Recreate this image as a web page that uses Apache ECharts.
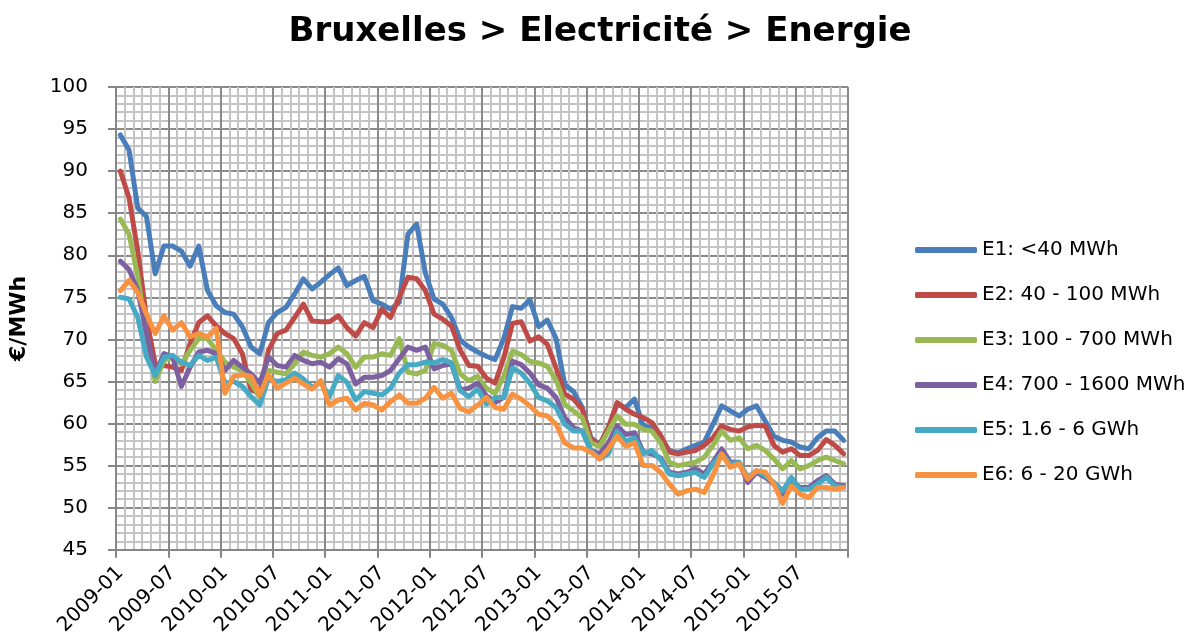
<!DOCTYPE html>
<html>
<head>
<meta charset="utf-8">
<script src="https://cdn.jsdelivr.net/npm/echarts@6/dist/echarts.min.js"></script>
<style>
html,body{margin:0;padding:0;background:#fff;}
#chart{width:1200px;height:638px;}
</style>
</head>
<body>
<div id="chart"></div>
<script>
const months = [
'2009-01','2009-02','2009-03','2009-04','2009-05','2009-06','2009-07','2009-08','2009-09','2009-10','2009-11','2009-12',
'2010-01','2010-02','2010-03','2010-04','2010-05','2010-06','2010-07','2010-08','2010-09','2010-10','2010-11','2010-12',
'2011-01','2011-02','2011-03','2011-04','2011-05','2011-06','2011-07','2011-08','2011-09','2011-10','2011-11','2011-12',
'2012-01','2012-02','2012-03','2012-04','2012-05','2012-06','2012-07','2012-08','2012-09','2012-10','2012-11','2012-12',
'2013-01','2013-02','2013-03','2013-04','2013-05','2013-06','2013-07','2013-08','2013-09','2013-10','2013-11','2013-12',
'2014-01','2014-02','2014-03','2014-04','2014-05','2014-06','2014-07','2014-08','2014-09','2014-10','2014-11','2014-12',
'2015-01','2015-02','2015-03','2015-04','2015-05','2015-06','2015-07','2015-08','2015-09','2015-10','2015-11','2015-12'
];
const seriesNames = ['E1: <40 MWh','E2: 40 - 100 MWh','E3: 100 - 700 MWh','E4: 700 - 1600 MWh','E5: 1.6 - 6 GWh','E6: 6 - 20 GWh'];
const e1 = [94.3,92.5,85.6,84.6,77.8,81.1,81.1,80.5,78.7,81.1,75.8,74.0,
73.2,73.0,71.5,69.1,68.3,72.0,73.2,73.8,75.4,77.2,76.0,76.8,
77.7,78.5,76.4,77.0,77.5,74.6,74.2,73.6,74.4,82.5,83.7,77.9,
74.8,74.2,72.6,69.9,69.1,68.5,68.0,67.6,70.1,73.9,73.7,74.7,
71.5,72.3,70.1,64.6,63.8,61.9,58.3,57.5,59.5,62.3,61.9,62.9,
59.7,59.5,58.3,56.8,56.5,57.0,57.4,57.8,59.9,62.1,61.5,60.9,
61.7,62.1,60.3,58.5,58.0,57.8,57.2,57.0,58.3,59.1,59.1,58.0];
const e2 = [90.0,86.8,80.5,72.5,67.1,66.9,66.7,66.3,69.5,72.0,72.8,71.6,
70.7,70.1,68.3,64.0,63.6,68.7,70.7,71.1,72.6,74.2,72.2,72.1,
72.1,72.8,71.4,70.4,72.0,71.4,73.6,72.6,75.0,77.4,77.2,75.8,
73.0,72.4,71.6,68.7,66.9,66.8,65.4,64.8,67.8,71.9,72.1,69.8,
70.3,69.4,66.6,63.5,62.9,61.7,58.1,57.5,59.5,62.5,61.7,61.1,
60.7,60.1,58.6,56.6,56.4,56.6,56.8,57.4,58.3,59.7,59.3,59.1,
59.6,59.8,59.7,57.4,56.6,57.0,56.2,56.2,56.8,58.1,57.4,56.4];
const e3 = [84.3,82.5,77.5,70.5,65.0,67.5,67.9,67.1,68.7,70.1,70.1,68.7,
67.3,66.7,66.3,64.8,63.2,66.3,66.1,65.9,67.1,68.5,68.1,67.9,
68.3,69.1,68.3,66.7,67.9,67.9,68.3,68.1,70.1,66.1,65.9,66.3,
69.5,69.3,68.7,65.9,65.1,65.6,64.2,63.6,65.6,68.6,68.2,67.4,
67.2,66.8,65.2,62.3,61.5,60.7,57.7,57.3,59.1,60.9,59.9,59.9,
59.3,59.1,57.7,55.4,55.0,55.2,55.4,56.0,57.4,59.1,58.0,58.3,
57.0,57.4,56.8,55.8,54.6,55.6,54.6,55.0,55.6,56.0,55.6,55.2];
const e4 = [79.3,78.3,75.8,70.7,65.9,68.3,67.9,64.4,66.7,68.5,68.7,68.3,
66.3,67.5,66.7,65.9,64.8,67.9,66.9,66.7,68.1,67.5,67.1,67.3,
66.7,67.7,67.1,64.7,65.5,65.5,65.7,66.3,67.7,69.1,68.7,69.1,
66.5,66.9,67.1,64.0,64.2,64.8,63.3,62.5,63.1,67.4,67.0,66.0,
64.6,64.2,63.1,60.7,59.5,59.1,56.8,56.4,57.7,59.7,58.7,58.9,
56.6,56.4,55.9,54.2,54.0,54.2,54.6,54.0,55.4,57.0,55.4,55.4,
53.0,54.2,53.6,52.8,51.6,53.2,52.4,52.4,53.2,53.8,52.8,52.6];
const e5 = [75.0,74.8,72.6,67.9,65.7,67.9,68.1,67.3,66.9,68.1,67.5,67.9,
64.8,65.0,64.4,63.2,62.2,65.4,65.0,65.2,66.0,65.3,64.3,64.9,
63.2,65.7,64.9,62.8,63.8,63.6,63.4,64.2,66.0,67.0,67.0,67.3,
67.2,67.6,67.2,63.9,63.2,64.1,62.3,63.1,63.1,66.6,66.0,64.8,
63.1,62.7,61.9,59.9,59.1,59.1,56.8,55.8,56.4,59.1,57.9,58.3,
56.4,56.8,55.7,54.0,53.8,54.0,54.2,53.6,55.2,56.4,55.2,55.4,
53.6,54.4,53.8,53.0,52.0,53.6,52.2,52.2,52.8,53.6,52.6,52.4];
const e6 = [75.8,77.0,75.6,73.0,70.7,72.8,71.1,72.0,70.3,70.7,70.3,71.3,
63.6,65.6,65.8,65.6,63.4,65.8,64.2,64.8,65.4,64.7,64.1,65.1,
62.2,62.8,63.0,61.6,62.4,62.2,61.6,62.6,63.4,62.4,62.4,63.0,
64.3,63.0,63.6,61.8,61.4,62.2,63.1,61.9,61.7,63.5,62.9,62.1,
61.1,60.9,59.9,57.7,57.1,57.1,56.6,55.8,57.0,58.5,57.3,57.7,
55.0,55.0,54.2,52.8,51.6,52.0,52.2,51.8,53.8,56.4,54.8,55.2,
53.4,54.4,54.2,52.8,50.5,52.6,51.6,51.2,52.4,52.4,52.2,52.4];
const seriesData = [e1,e2,e3,e4,e5,e6];
const colors = ['#4A7EBB','#BE4B48','#98B954','#7D60A0','#46AAC5','#F69240'];

const FONT = 'DejaVu Sans';
const chart = echarts.init(document.getElementById('chart'), null, {renderer:'canvas'});
const option = {
  animation: false,
  backgroundColor: '#ffffff',
  color: colors,
  title: {
    text: 'Bruxelles > Electricité > Energie',
    left: 'center',
    top: 10,
    textStyle: {fontFamily: FONT, fontSize: 34, fontWeight: 'bold', color: '#000'}
  },
  legend: {
    orient: 'vertical',
    left: 910,
    top: 235,
    icon: 'roundRect',
    itemWidth: 62,
    itemHeight: 6,
    itemGap: 25,
    textStyle: {fontFamily: FONT, fontSize: 20, color: '#000', padding: [0,0,0,0]},
    data: seriesNames
  },
  grid: {left: 115, right: 352, top: 87, bottom: 85, containLabel: false},
  xAxis: [{
    type: 'category',
    data: months,
    boundaryGap: true,
    axisLine: {show: true, lineStyle: {color: '#868686', width: 2}},
    axisTick: {show: true, interval: 5, length: 8, lineStyle: {color: '#868686', width: 2}},
    axisLabel: {interval: 5, rotate: 45, margin: 20, fontFamily: FONT, fontSize: 20, color: '#000'},
    splitLine: {show: true, interval: 0, lineStyle: {color: '#C4C4C4', width: 2}}
  },{
    type: 'category',
    data: months,
    boundaryGap: true,
    position: 'top',
    axisLine: {show: false},
    axisTick: {show: false},
    axisLabel: {show: false},
    splitLine: {show: true, interval: 5, lineStyle: {color: '#8A8A8A', width: 2}}
  }],
  yAxis: {
    type: 'value',
    min: 45, max: 100, interval: 5,
    name: '€/MWh',
    nameLocation: 'middle',
    nameRotate: 90,
    nameGap: 86,
    nameTextStyle: {fontFamily: FONT, fontSize: 22, fontWeight: 'bold', color: '#000'},
    axisLine: {show: true, lineStyle: {color: '#868686', width: 2}},
    axisTick: {show: true, length: 8, lineStyle: {color: '#868686', width: 2}},
    axisLabel: {margin: 28, fontFamily: FONT, fontSize: 20, color: '#000'},
    splitLine: {show: true, lineStyle: {color: '#8A8A8A', width: 2}},
    minorTick: {show: false, splitNumber: 5},
    minorSplitLine: {show: true, lineStyle: {color: '#C4C4C4', width: 2}}
  },
  series: seriesNames.map((n, k) => ({
    name: n,
    type: 'line',
    data: seriesData[k],
    symbol: 'none',
    showSymbol: false,
    lineStyle: {width: 5, color: colors[k], cap: 'round', join: 'round'},
    itemStyle: {color: colors[k]}
  }))
};
chart.setOption(option);
</script>
</body>
</html>
